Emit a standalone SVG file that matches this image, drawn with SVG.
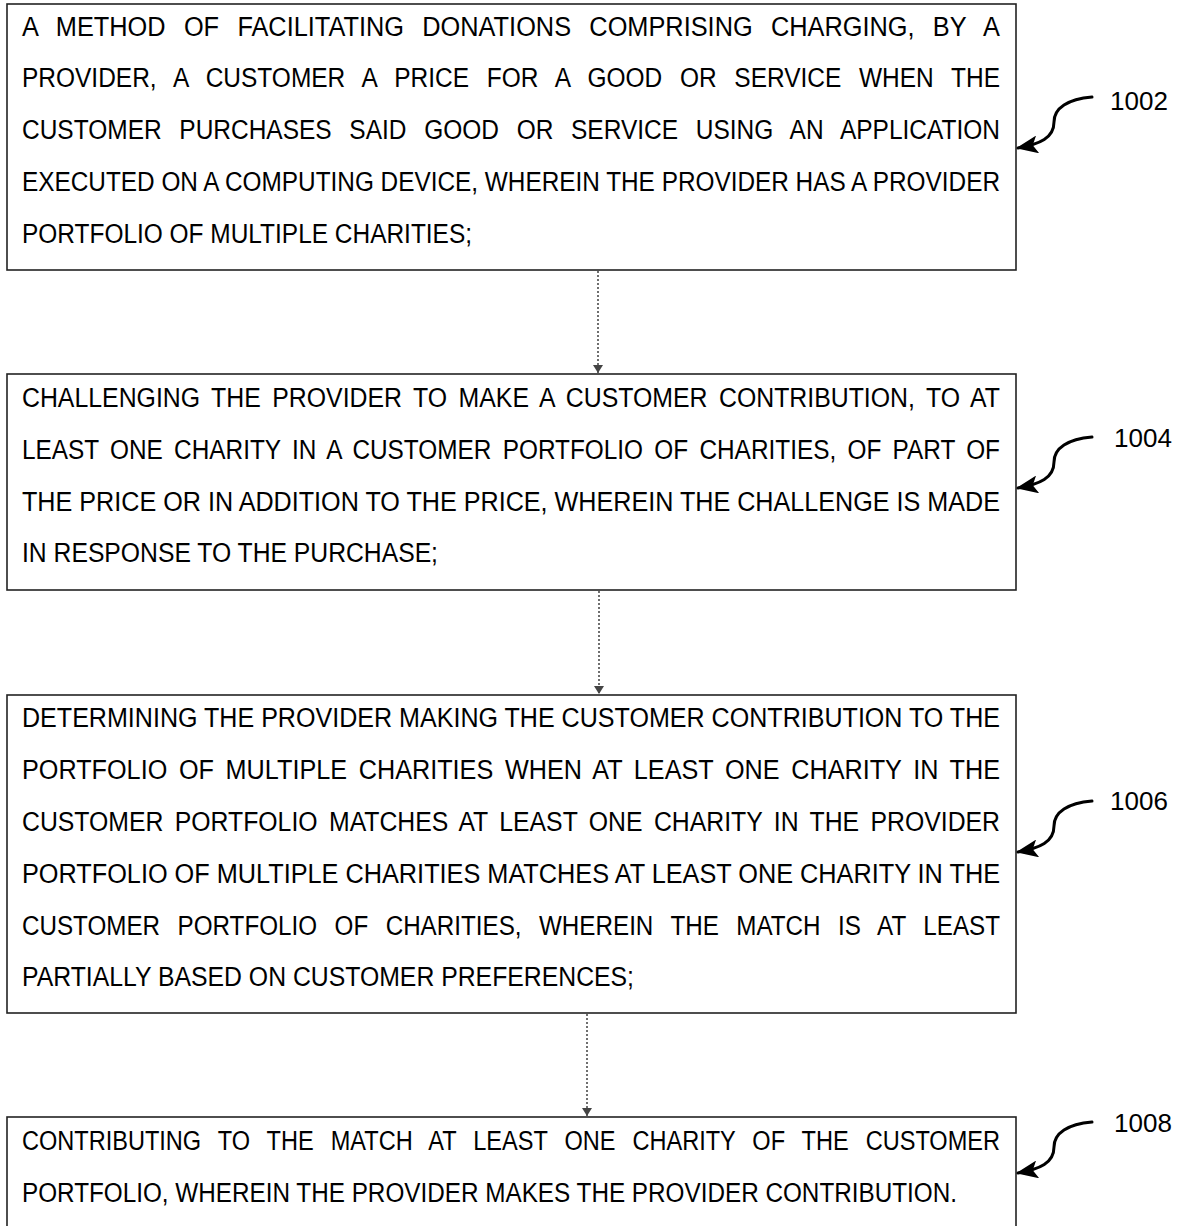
<svg xmlns="http://www.w3.org/2000/svg" width="1178" height="1226" viewBox="0 0 1178 1226">
<defs>
<style>
.box{fill:#fff;stroke:#222;stroke-width:1.6}
.t{font-family:"Liberation Sans",Arial,sans-serif;font-size:27px;fill:#000}
.w{word-spacing:12px}
.m{word-spacing:5px}
.lbl{font-family:"Liberation Sans",Arial,sans-serif;font-size:26px;fill:#000}
.conn{stroke:#333;stroke-width:1.4;stroke-dasharray:2,2;fill:none}
.curl{stroke:#000;stroke-width:3;fill:none;stroke-linecap:round}
</style>
<marker id="dh" markerWidth="12" markerHeight="10" refX="6" refY="9" orient="0" markerUnits="userSpaceOnUse" viewBox="0 0 12 10">
<path d="M1,1 L11,1 L6,9 Z" fill="#444"/>
</marker>
<marker id="ch" markerWidth="22" markerHeight="18" refX="20" refY="9" orient="auto" markerUnits="userSpaceOnUse" viewBox="0 0 22 18">
<path d="M0,0 L22,9 L0,18 L5,9 Z" fill="#000"/>
</marker>
</defs>
<rect width="1178" height="1226" fill="#fff"/>
<g id="connectors">
<line class="conn" x1="598" y1="271" x2="598" y2="373" marker-end="url(#dh)"/>
<line class="conn" x1="599" y1="591" x2="599" y2="694" marker-end="url(#dh)"/>
<line class="conn" x1="587" y1="1014" x2="587" y2="1116" marker-end="url(#dh)"/>
<path class="curl" d="M1092,97 C1068,99 1054,108 1054,122 C1054,138 1040,144 1018,148" marker-end="url(#ch)"/>
<path class="curl" d="M1092,437 C1068,439 1054,448 1054,462 C1054,478 1040,484 1018,488" marker-end="url(#ch)"/>
<path class="curl" d="M1092,801 C1068,803 1054,812 1054,826 C1054,842 1040,848 1018,852" marker-end="url(#ch)"/>
<path class="curl" d="M1092,1122 C1068,1124 1054,1133 1054,1147 C1054,1163 1040,1169 1018,1173" marker-end="url(#ch)"/>
</g>
<g id="n1002">
<rect class="box" x="7" y="4" width="1009" height="266"/>
<text class="t w" x="22" y="36" textLength="978" lengthAdjust="spacingAndGlyphs">A METHOD OF FACILITATING DONATIONS COMPRISING CHARGING, BY A</text>
<text class="t w" x="22" y="87" textLength="978" lengthAdjust="spacingAndGlyphs">PROVIDER, A CUSTOMER A PRICE FOR A GOOD OR SERVICE WHEN THE</text>
<text class="t w" x="22" y="139" textLength="978" lengthAdjust="spacingAndGlyphs">CUSTOMER PURCHASES SAID GOOD OR SERVICE USING AN APPLICATION</text>
<text class="t" x="22" y="191" textLength="978" lengthAdjust="spacingAndGlyphs">EXECUTED ON A COMPUTING DEVICE, WHEREIN THE PROVIDER HAS A PROVIDER</text>
<text class="t" x="22" y="243" textLength="450" lengthAdjust="spacingAndGlyphs">PORTFOLIO OF MULTIPLE CHARITIES;</text>
<text class="lbl" x="1110" y="110">1002</text>
</g>
<g id="n1004">
<rect class="box" x="7" y="374" width="1009" height="216"/>
<text class="t m" x="22" y="407" textLength="978" lengthAdjust="spacingAndGlyphs">CHALLENGING THE PROVIDER TO MAKE A CUSTOMER CONTRIBUTION, TO AT</text>
<text class="t m" x="22" y="459" textLength="978" lengthAdjust="spacingAndGlyphs">LEAST ONE CHARITY IN A CUSTOMER PORTFOLIO OF CHARITIES, OF PART OF</text>
<text class="t" x="22" y="511" textLength="978" lengthAdjust="spacingAndGlyphs">THE PRICE OR IN ADDITION TO THE PRICE, WHEREIN THE CHALLENGE IS MADE</text>
<text class="t" x="22" y="562" textLength="416" lengthAdjust="spacingAndGlyphs">IN RESPONSE TO THE PURCHASE;</text>
<text class="lbl" x="1114" y="447">1004</text>
</g>
<g id="n1006">
<rect class="box" x="7" y="695" width="1009" height="318"/>
<text class="t" x="22" y="727" textLength="978" lengthAdjust="spacingAndGlyphs">DETERMINING THE PROVIDER MAKING THE CUSTOMER CONTRIBUTION TO THE</text>
<text class="t m" x="22" y="779" textLength="978" lengthAdjust="spacingAndGlyphs">PORTFOLIO OF MULTIPLE CHARITIES WHEN AT LEAST ONE CHARITY IN THE</text>
<text class="t m" x="22" y="831" textLength="978" lengthAdjust="spacingAndGlyphs">CUSTOMER PORTFOLIO MATCHES AT LEAST ONE CHARITY IN THE PROVIDER</text>
<text class="t" x="22" y="883" textLength="978" lengthAdjust="spacingAndGlyphs">PORTFOLIO OF MULTIPLE CHARITIES MATCHES AT LEAST ONE CHARITY IN THE</text>
<text class="t w" x="22" y="935" textLength="978" lengthAdjust="spacingAndGlyphs">CUSTOMER PORTFOLIO OF CHARITIES, WHEREIN THE MATCH IS AT LEAST</text>
<text class="t" x="22" y="986" textLength="612" lengthAdjust="spacingAndGlyphs">PARTIALLY BASED ON CUSTOMER PREFERENCES;</text>
<text class="lbl" x="1110" y="810">1006</text>
</g>
<g id="n1008">
<rect class="box" x="7" y="1117" width="1009" height="120"/>
<text class="t w" x="22" y="1150" textLength="978" lengthAdjust="spacingAndGlyphs">CONTRIBUTING TO THE MATCH AT LEAST ONE CHARITY OF THE CUSTOMER</text>
<text class="t" x="22" y="1202" textLength="935" lengthAdjust="spacingAndGlyphs">PORTFOLIO, WHEREIN THE PROVIDER MAKES THE PROVIDER CONTRIBUTION.</text>
<text class="lbl" x="1114" y="1132">1008</text>
</g>
</svg>
